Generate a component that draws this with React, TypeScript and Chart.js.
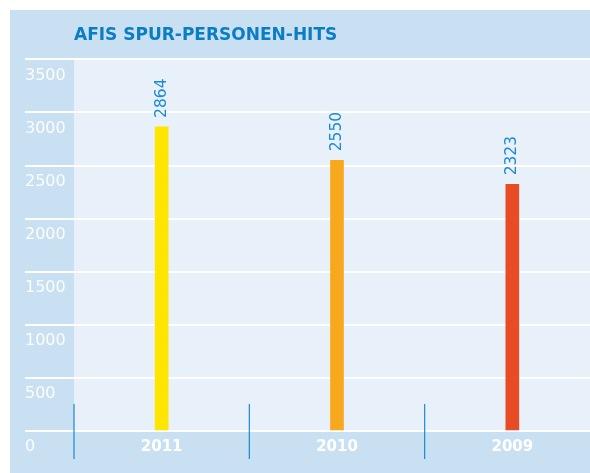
import React, { useEffect, useRef } from "react";
import { Chart, registerables } from "chart.js";

Chart.register(...registerables);

const TITLE = "AFIS SPUR-PERSONEN-HITS";
const categories = ["2011", "2010", "2009"];
const values = [2864, 2550, 2323];
const barColors = ["#ffe500", "#f8a81c", "#e84c25"];
const yTicks = [0, 500, 1000, 1500, 2000, 2500, 3000, 3500];

const plotBg = {
  id: "plotBg",
  beforeDraw(chart: any) {
    const { ctx, chartArea } = chart;
    ctx.save();
    ctx.fillStyle = "#e8f0f9";
    ctx.fillRect(chartArea.left, chartArea.top, chartArea.right - chartArea.left, chartArea.bottom - chartArea.top);
    ctx.restore();
  },
};

const valueLabels = {
  id: "valueLabels",
  afterDatasetsDraw(chart: any) {
    const { ctx } = chart;
    const meta = chart.getDatasetMeta(0);
    ctx.save();
    ctx.fillStyle = "#1b8ad2";
    ctx.font = "400 15.5px 'DejaVu Sans'";
    ctx.textAlign = "left";
    ctx.textBaseline = "middle";
    meta.data.forEach((bar: any, i: number) => {
      ctx.save();
      ctx.translate(bar.x, bar.y - 9);
      ctx.rotate(-Math.PI / 2);
      ctx.fillText(String(values[i]), 0, 0);
      ctx.restore();
    });
    ctx.restore();
  },
};

const boundaryLines = {
  id: "boundaryLines",
  afterDraw(chart: any) {
    const { ctx, chartArea } = chart;
    const xs = chart.scales.x;
    const n = categories.length;
    const half = (xs.right - xs.left) / n / 2;
    ctx.save();
    ctx.strokeStyle = "#1a8ad0";
    ctx.lineWidth = 1.2;
    for (let i = 0; i < n; i++) {
      const x = xs.getPixelForValue(i) - half;
      ctx.beginPath();
      ctx.moveTo(x, chartArea.bottom - 27);
      ctx.lineTo(x, chartArea.bottom + 28);
      ctx.stroke();
    }
    ctx.restore();
  },
};

export default function App() {
  const ref = useRef<HTMLCanvasElement | null>(null);
  useEffect(() => {
    if (!ref.current) return;
    const chart = new Chart(ref.current, {
      type: "bar",
      data: {
        labels: categories,
        datasets: [
          {
            data: values,
            backgroundColor: barColors,
            barThickness: 13,
            borderWidth: 0,
          },
        ],
      },
      plugins: [plotBg, valueLabels, boundaryLines],
      options: {
        animation: false,
        responsive: false,
        devicePixelRatio: 1,
        layout: { padding: { left: 15, right: 10, top: 0, bottom: 0 } },
        plugins: {
          legend: { display: false },
          tooltip: { enabled: false },
          title: {
            display: true,
            text: TITLE,
            align: "start",
            fullSize: false,
            color: "#0a7dc5",
            font: { family: "'DejaVu Sans'", weight: "bold", size: 17, lineHeight: 1.2 },
            padding: { top: 15.5, bottom: 13.5 },
          },
        },
        scales: {
          x: {
            type: "category",
            grid: { display: false, drawTicks: false },
            border: { display: false },
            ticks: {
              color: "#ffffff",
              font: { family: "'DejaVu Sans'", weight: "bold", size: 15 },
              padding: 7,
            },
            afterFit: (s: any) => {
              s.height = 42;
            },
          },
          y: {
            min: 0,
            max: 3500,
            afterBuildTicks: (s: any) => {
              s.ticks = yTicks.map((v) => ({ value: v }));
            },
            grid: { color: "#ffffff", lineWidth: 2, tickLength: 49, drawTicks: true },
            border: { display: false },
            ticks: {
              crossAlign: "far",
              labelOffset: 16,
              color: "rgba(255,255,255,0.92)",
              font: { family: "'DejaVu Sans'", weight: "normal", size: 16 },
              autoSkip: false,
              callback: (v: any) => String(v),
            },
            afterFit: (s: any) => {
              s.width = 49;
            },
          },
        },
      },
    });
    return () => chart.destroy();
  }, []);
  return (
    <div
      style={{
        position: "fixed",
        left: 10,
        top: 10,
        width: 580,
        height: 463,
        background: "#c9dff2",
        overflow: "hidden",
      }}
    >
      <canvas ref={ref} width={600} height={463} style={{ display: "block", width: 600, height: 463 }} />
    </div>
  );
}
